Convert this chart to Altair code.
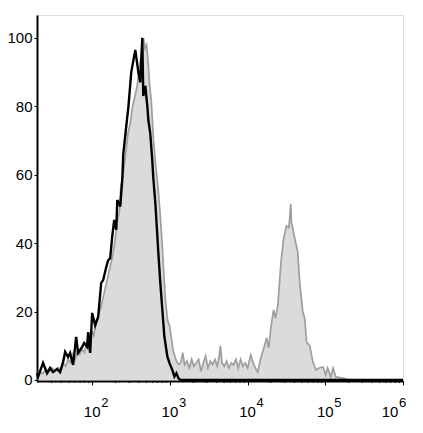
import altair as alt
import pandas as pd
import math

# ---- data (x = log10 fluorescence, y = % of max) ----
gray_x = [1.290, 1.32, 1.36, 1.40, 1.44, 1.48, 1.52, 1.56, 1.60, 1.63, 1.66, 1.69, 1.72, 1.75, 1.78,
          1.81, 1.84, 1.87, 1.90, 1.93, 1.96, 1.99, 2.02, 2.05, 2.08, 2.11, 2.14, 2.17, 2.20, 2.23,
          2.26, 2.29, 2.32, 2.35, 2.37, 2.40, 2.43, 2.46, 2.49, 2.52, 2.55, 2.58, 2.61, 2.63, 2.645,
          2.66, 2.68, 2.70, 2.72, 2.74, 2.76, 2.79, 2.82, 2.84, 2.87, 2.90, 2.92, 2.94, 2.97, 3.00,
          3.02, 3.04, 3.08, 3.11, 3.14, 3.165, 3.19, 3.22, 3.25, 3.28, 3.31, 3.34, 3.37, 3.40, 3.43,
          3.46, 3.49, 3.52, 3.55, 3.58, 3.61, 3.635, 3.65, 3.67, 3.70, 3.73, 3.76, 3.79, 3.82, 3.85,
          3.88, 3.91, 3.94, 3.97, 4.00, 4.04, 4.08, 4.13, 4.17, 4.21, 4.245, 4.27, 4.31, 4.335, 4.36,
          4.39, 4.43, 4.465, 4.50, 4.53, 4.545, 4.555, 4.565, 4.58, 4.605, 4.645, 4.67, 4.71, 4.735,
          4.76, 4.80, 4.84, 4.88, 4.92, 4.97, 5.005, 5.03, 5.07, 5.10, 5.135, 5.20, 5.24, 5.28, 5.32,
          6.00]
gray_y = [1.5, 2.5, 1.8, 3.0, 2.2, 3.5, 2.8, 3.6, 3.0, 4.8, 4.0, 6.0, 5.0, 7.5, 6.0,
          8.5, 7.5, 9.0, 8.0, 11.0, 12.5, 14.5, 13.0, 17.0, 19.0, 21.0, 24.0, 27.0, 30.0, 33.0,
          36.0, 40.0, 46.0, 49.0, 57.0, 60.0, 66.0, 72.0, 75.0, 80.0, 83.0, 86.0, 92.0, 95.0, 99.0,
          100.0, 97.0, 98.0, 93.0, 86.0, 82.0, 70.0, 62.0, 58.0, 50.0, 40.0, 32.0, 24.0, 17.5, 15.5,
          12.0, 8.8, 5.8, 4.5, 5.0, 8.0, 4.4, 5.5, 3.5, 6.0, 4.0, 5.0, 6.0, 2.5, 5.0,
          7.0, 3.5, 5.5, 4.5, 6.0, 4.0, 7.0, 10.0, 5.0, 4.0, 5.5, 3.5, 5.0, 4.4, 6.0,
          3.5, 6.0, 4.0, 5.0, 3.5, 7.3, 4.4, 2.3, 6.4, 9.4, 12.3, 9.4, 17.0, 20.5, 18.0,
          22.0, 34.5, 41.5, 45.0, 44.5, 48.0, 51.5, 46.0, 44.5, 41.5, 37.5, 28.7, 20.0, 18.0,
          11.0, 10.0, 5.3, 2.9, 3.5, 3.8, 1.5, 3.5, 0.9, 3.5, 0.9, 0.6, 0.5, 0.2, 0.0,
          0.0]

black_x = [1.290, 1.303, 1.368, 1.419, 1.458, 1.497, 1.548, 1.587, 1.626, 1.652, 1.690, 1.716, 1.755,
           1.794, 1.819, 1.871, 1.897, 1.935, 1.948, 1.974, 2.000, 2.039, 2.077, 2.116, 2.142, 2.181,
           2.206, 2.232, 2.258, 2.284, 2.310, 2.323, 2.361, 2.387, 2.400, 2.452, 2.465, 2.503, 2.555,
           2.594, 2.619, 2.645, 2.658, 2.684, 2.710, 2.723, 2.748, 2.774, 2.787, 2.813, 2.852, 2.877,
           2.903, 2.929, 2.968, 2.994, 3.032, 3.058, 3.084, 3.110, 3.135, 6.000]
black_y = [2.0, 0.9, 5.0, 2.0, 3.5, 2.3, 3.2, 2.3, 5.3, 8.2, 6.7, 7.9, 4.4,
           12.6, 7.9, 9.7, 10.8, 9.7, 14.0, 7.9, 19.6, 16.0, 18.4, 28.4, 29.2, 33.0,
           35.0, 35.6, 42.0, 46.8, 43.9, 52.6, 50.7, 58.5, 66.0, 77.0, 79.5, 90.0, 96.5,
           90.0, 87.0, 100.0, 83.0, 86.0, 80.0, 76.0, 72.0, 64.0, 59.0, 51.7, 37.0, 28.4,
           20.5, 12.7, 6.8, 5.0, 2.9, 1.0, 2.0, 0.5, 0.0, 0.0]

decades = [2, 3, 4, 5, 6]
decade_exp = ["2", "3", "4", "5", "6"]
y_ticks = [0, 20, 40, 60, 80, 100]

X_DOMAIN = [1.29, 6.0]
Y_DOMAIN = [-0.3, 106.7]
W, H = 366, 366
FONT = "Liberation Sans"

gray_df = pd.DataFrame({"x": gray_x, "y": gray_y})
black_df = pd.DataFrame({"x": black_x, "y": black_y})
label_df = pd.DataFrame({"x": decades, "e": decade_exp, "b": ["10"] * len(decades)})
minor = [math.log10(k * 10 ** n) for n in range(1, 6) for k in range(2, 10)
         if X_DOMAIN[0] <= math.log10(k * 10 ** n) <= X_DOMAIN[1]]
minor_df = pd.DataFrame({"x": minor})

xs = alt.Scale(domain=X_DOMAIN, nice=False, zero=False)
ys = alt.Scale(domain=Y_DOMAIN, nice=False, zero=False)

x_axis = alt.Axis(values=decades, labels=False, title="", grid=False, tickSize=4,
                  tickColor="black", domainColor="black", domainWidth=2, tickWidth=1)
y_axis = alt.Axis(values=y_ticks, title="", grid=False, tickSize=3, tickColor="black",
                  domainColor="black", domainWidth=2, labelFontSize=15, labelFont=FONT,
                  labelColor="black", labelPadding=2)

area = alt.Chart(gray_df).mark_area(
    color="#cccccc", line={"color": "#9e9e9e", "strokeWidth": 1.7}, interpolate="linear"
).encode(
    x=alt.X("x:Q", scale=xs, axis=x_axis),
    y=alt.Y("y:Q", scale=ys, axis=y_axis),
    y2=alt.datum(0),
)

line = alt.Chart(black_df).mark_line(color="black", strokeWidth=2.4, interpolate="linear").encode(
    x=alt.X("x:Q", scale=xs),
    y=alt.Y("y:Q", scale=ys),
)

minor_ticks = alt.Chart(minor_df).mark_rule(color="black", strokeWidth=1).encode(
    x=alt.X("x:Q", scale=xs),
    y=alt.value(H),
    y2=alt.value(H + 2),
)

inner = alt.Chart(label_df).transform_filter(alt.datum.x < 6)
last = alt.Chart(label_df).transform_filter(alt.datum.x >= 6)

base_lbl = inner.mark_text(
    font=FONT, fontSize=15, align="center", baseline="alphabetic", color="black"
).encode(x=alt.X("x:Q", scale=xs), y=alt.value(H + 36), text="b:N")
exp_lbl = inner.mark_text(
    font=FONT, fontSize=13, align="left", baseline="alphabetic", color="black", dx=9
).encode(x=alt.X("x:Q", scale=xs), y=alt.value(H + 26), text="e:N")

base_last = last.mark_text(
    font=FONT, fontSize=15, align="center", baseline="alphabetic", color="black", dx=-13
).encode(x=alt.X("x:Q", scale=xs), y=alt.value(H + 36), text="b:N")
exp_last = last.mark_text(
    font=FONT, fontSize=13, align="left", baseline="alphabetic", color="black", dx=-4
).encode(x=alt.X("x:Q", scale=xs), y=alt.value(H + 26), text="e:N")

chart = alt.layer(area, line, minor_ticks, base_lbl, exp_lbl, base_last, exp_last).properties(
    width=W, height=H,
    autosize=alt.AutoSizeParams(type="none"),
    padding={"left": 29, "top": 7, "right": 10, "bottom": 40},
).configure_view(stroke="#555555", strokeWidth=1).configure(background="white")

chart.save("out.html", embed_options={"renderer": "svg", "actions": False})
